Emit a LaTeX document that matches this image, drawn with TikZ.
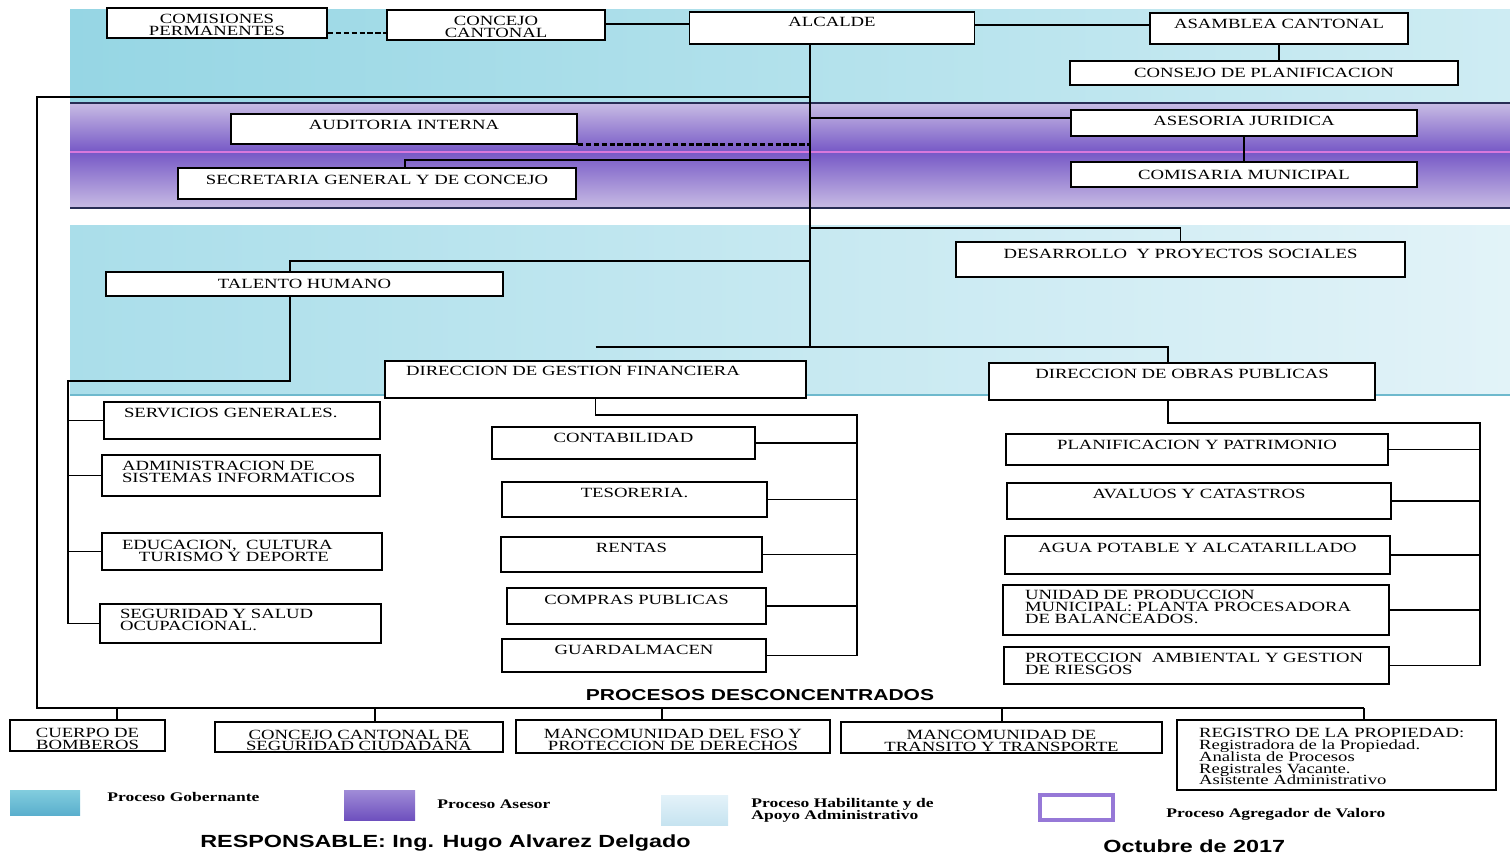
\documentclass[tikz,border=0pt]{standalone}
\usepackage{fontspec}
\setmainfont{Liberation Serif}
\newfontfamily\boxfont[FakeStretch=1.33]{Liberation Serif}
\newfontfamily\headfont[FakeStretch=1.33]{Liberation Sans}
\definecolor{gobL}{RGB}{150,214,228}
\definecolor{gobR}{RGB}{206,236,243}
\definecolor{aseL}{RGB}{200,188,228}
\definecolor{aseD}{RGB}{118,88,198}
\definecolor{asePk}{RGB}{216,120,220}
\definecolor{bandLn}{RGB}{40,45,85}
\definecolor{habL}{RGB}{170,222,234}
\definecolor{habR}{RGB}{226,243,248}
\definecolor{habLn}{RGB}{110,185,205}
\definecolor{sgT}{RGB}{130,205,222}
\definecolor{sgM}{RGB}{175,228,238}
\definecolor{sgB}{RGB}{90,175,205}
\definecolor{saT}{RGB}{160,140,215}
\definecolor{saM}{RGB}{200,190,235}
\definecolor{saB}{RGB}{110,80,190}
\definecolor{shT}{RGB}{228,242,249}
\definecolor{shB}{RGB}{198,227,240}
\definecolor{agrP}{RGB}{150,120,215}
\newcommand{\tightlines}{\lineskiplimit=-10pt\relax}
\begin{document}
\setlength{\lineskiplimit}{-10pt}
\setlength{\normallineskiplimit}{-10pt}
\begin{tikzpicture}[x=0.02cm,y=-0.02cm,
	box/.style={draw, fill=white, line width=1pt, inner xsep=2pt, inner ysep=0.5pt, align=center,
		font={\boxfont\fontsize{8}{6.7}\selectfont\tightlines}},
	sz/.style 2 args={minimum width=#1*0.02cm, minimum height=#2*0.02cm},
	lift/.style={text depth=#1},
	low/.style={text height=#1},
	lbox/.style 2 args={align=left, text width=#1, inner xsep=#2},
	link/.style={line width=1pt},
	dlink/.style={line width=1.6pt, dash pattern=on 3pt off 1.5pt},
	swatch/.style={inner sep=0pt},
	leg/.style={anchor=west, inner sep=0pt, align=left,
		font={\boxfont\fontsize{7.5}{7}\selectfont\bfseries\tightlines}}]
	\useasboundingbox (0,0) rectangle (1510,855);
	
	% bandas de procesos
	\shade[left color=gobL, right color=gobR] (70,10) rectangle (1510,103);
	\shade[top color=aseL, bottom color=aseD] (70,103) rectangle (1510,152);
	\shade[top color=aseD, bottom color=aseL] (70,152) rectangle (1510,208);
	\draw[asePk, line width=1pt] (70,152) -- (1510,152);
	\draw[bandLn, line width=1pt] (70,103) -- (1510,103);
	\draw[bandLn, line width=1.4pt] (70,208) -- (1510,208);
	\shade[left color=habL, right color=habR] (70,225) rectangle (1510,395);
	\draw[habLn, line width=1pt] (70,395) -- (1510,395);
	
	% nivel gobernante y asesor
	\node[box, sz={220}{30}, low=14pt] (com) at (217,23) {COMISIONES\\PERMANENTES};
	\node[box, sz={218}{30}, low=14pt] (conc) at (496,25) {CONCEJO\\CANTONAL};
	\node[box, sz={285}{32}, lift=6.8pt] (alc) at (832,28) {ALCALDE};
	\node[box, sz={258}{31}, lift=5pt] (asam) at (1279,28.5) {ASAMBLEA CANTONAL};
	\node[box, sz={388}{24}] (cpl) at (1264,73) {CONSEJO DE PLANIFICACION};
	\node[box, sz={346}{30}, lift=4.5pt] (aud) at (404,129) {AUDITORIA INTERNA};
	\node[box, sz={398}{31}, lift=4pt] (sec) at (377,183.5) {SECRETARIA GENERAL Y DE CONCEJO};
	\node[box, sz={346}{26}, lift=2pt] (asj) at (1244,123) {ASESORIA JURIDICA};
	\node[box, sz={346}{25}] (cms) at (1244,174.5) {COMISARIA MUNICIPAL};
	
	% nivel de apoyo
	\node[box, sz={449}{35}, lift=6pt] (des) at (1180.5,259.5) {DESARROLLO~ Y PROYECTOS SOCIALES};
	\node[box, sz={397}{24}] (tal) at (304.5,284) {TALENTO HUMANO};
	\node[box, sz={421}{37}, lift=9.6pt, lbox={7.58cm}{0.42cm}] (dgf) at (595.5,379.5) {DIRECCION~DE~GESTION~FINANCIERA};
	\node[box, sz={386}{37}, lift=8.5pt] (dop) at (1182,381.5) {DIRECCION DE OBRAS PUBLICAS};
	
	\node[box, sz={276}{37}, lift=8.5pt, lbox={4.72cm}{0.4cm}] (ser) at (242,420.5) {SERVICIOS~GENERALES.};
	\node[box, sz={278}{41}, lift=10.8pt, lbox={4.76cm}{0.4cm}] (adm) at (241,475.5) {ADMINISTRACION~DE\\SISTEMAS~INFORMATICOS};
	\node[box, sz={280}{37}, lift=7.4pt, lbox={4.8cm}{0.4cm}] (edu) at (242,551.5) {EDUCACION,~~CULTURA\\\hspace*{1.2em}TURISMO~Y~DEPORTE};
	\node[box, sz={281}{39}, lift=10.8pt, lbox={4.82cm}{0.4cm}] (seg) at (240.5,623.5) {SEGURIDAD~Y~SALUD\\OCUPACIONAL.};
	
	\node[box, sz={263}{32}, lift=5.5pt] (cont) at (623.5,443) {CONTABILIDAD};
	\node[box, sz={265}{35}, lift=7.5pt] (tes) at (634.5,499.5) {TESORERIA.};
	\node[box, sz={261}{35}, lift=7.5pt] (ren) at (631.5,554.5) {RENTAS};
	\node[box, sz={259}{36}, lift=7pt] (cpu) at (636.5,606) {COMPRAS PUBLICAS};
	\node[box, sz={264}{33}, lift=6pt] (gua) at (634,655.5) {GUARDALMACEN};
	
	\node[box, sz={382}{31}, lift=5pt] (pla) at (1197,449.5) {PLANIFICACION Y PATRIMONIO};
	\node[box, sz={384}{36}, lift=8pt] (ava) at (1199,501) {AVALUOS Y CATASTROS};
	\node[box, sz={385}{38}, lift=8pt] (agu) at (1197.5,555) {AGUA POTABLE Y ALCATARILLADO};
	\node[box, sz={386}{50}, lift=17pt, lbox={6.84cm}{0.44cm}] (uni) at (1196,610) {UNIDAD~DE~PRODUCCION\\MUNICIPAL:~PLANTA~PROCESADORA\\DE~BALANCEADOS.};
	\node[box, sz={385}{37}, lift=8.5pt, lbox={6.86cm}{0.42cm}] (pro) at (1196.5,665.5) {PROTECCION~~AMBIENTAL~Y~GESTION\\DE~RIESGOS};
	
	% procesos desconcentrados
	\node[font=\headfont\bfseries\fontsize{9}{10}\selectfont] (pdc) at (760,695) {PROCESOS DESCONCENTRADOS};
	\node[box, sz={155}{31}, low=16pt] (bom) at (87.5,735.5) {CUERPO DE\\BOMBEROS};
	\node[box, sz={288}{30}, low=16pt] (ccs) at (359,737) {CONCEJO CANTONAL DE\\SEGURIDAD CIUDADANA};
	\node[box, sz={314}{33}, low=16pt] (mfs) at (673,736.5) {MANCOMUNIDAD DEL FSO Y\\PROTECCION DE DERECHOS};
	\node[box, sz={321}{31}, low=16pt] (mtt) at (1001.5,737.5) {MANCOMUNIDAD DE\\TRANSITO Y TRANSPORTE};
	\node[box, sz={319}{70}, lift=25pt, lbox={5.5cm}{0.44cm}] (reg) at (1336.5,755) {REGISTRO~DE~LA~PROPIEDAD:\\Registradora~de~la~Propiedad.\\Analista~de~Procesos\\Registrales~Vacante.\\Asistente~Administrativo};
	
	% conexiones
	\coordinate (trk) at (810,0);
	\draw[dlink] (com.east |- 0,33) -- (conc.west |- 0,33);
	\draw[link] (conc.east |- 0,24) -- (alc.west |- 0,24);
	\draw[link] (alc.east |- 0,25) -- (asam.west |- 0,25);
	\draw[link] (asam.south) -- (asam.south |- cpl.north);
	\draw[link] (trk |- alc.south) -- (trk |- 0,347);
	\draw[link] (dgf.north |- 0,347) -| (dop.north -| 1168,0);
	\draw[link] (trk |- 0,97) -- (37,97) -- (37,708) -- (1364,708);
	\foreach \n/\x in {bom/117, ccs/375, mfs/662, mtt/1002, reg/1364}
		\draw[link] (\x,708) -- (\n.north -| \x,0);
	\draw[link] (trk |- 0,118) -- (asj.west |- 0,118);
	\draw[link] (asj.south) -- (cms.north);
	\draw[dlink] (aud.south east) -- (trk |- aud.south east);
	\draw[link] (trk |- 0,160) -| (sec.north -| 405,0);
	\draw[link] (trk |- 0,228) -| (des.north);
	\draw[link] (trk |- 0,261) -| (tal.north -| 290,0);
	\draw[link] (tal.south -| 290,0) |- (68,381) -- (seg.west -| 68,0) -- (seg.west);
	\foreach \n in {ser,adm,edu}
		\draw[link] (\n.west -| 68,0) -- (\n.west);
	\draw[link] (dgf.south) |- (857,415) -- (gua.east -| 857,0) -- (gua.east);
	\foreach \n in {cont,tes,ren,cpu}
		\draw[link] (\n.east -| 857,0) -- (\n.east);
	\draw[link] (dop.south -| 1168,0) |- (1480,423) -- (pro.east -| 1480,0) -- (pro.east);
	\foreach \n in {pla,ava,agu,uni}
		\draw[link] (\n.east -| 1480,0) -- (\n.east);
	
	% leyenda
	\node[swatch, sz={70}{25}, top color=sgT, middle color=sgM, bottom color=sgB] (lg1) at (45,802.5) {};
	\node[leg] (tg1) at (107,797) {Proceso Gobernante};
	\node[swatch, sz={71}{30}, top color=saT, middle color=saM, bottom color=saB] (lg2) at (379.5,805) {};
	\node[leg] (tg2) at (437,804) {Proceso Asesor};
	\node[swatch, sz={67}{30}, top color=shT, bottom color=shB] (lg3) at (694.5,810) {};
	\node[leg] (tg3) at (751,810) {Proceso Habilitante y de\\Apoyo Administrativo};
	\node[draw=agrP, line width=2pt, fill=white, sz={73}{25}] (lg4) at (1076.5,807.5) {};
	\node[leg] (tg4) at (1166,814) {Proceso Agregador de Valoro};
	
	\node[anchor=west, inner sep=0pt, font=\headfont\bfseries\fontsize{10}{12}\selectfont] (resp) at (200,843) {RESPONSABLE: Ing. Hugo Alvarez Delgado};
	\node[anchor=west, inner sep=0pt, font=\headfont\bfseries\fontsize{10}{12}\selectfont] (fecha) at (1103,846) {Octubre de 2017};
	
\end{tikzpicture}
\end{document}
